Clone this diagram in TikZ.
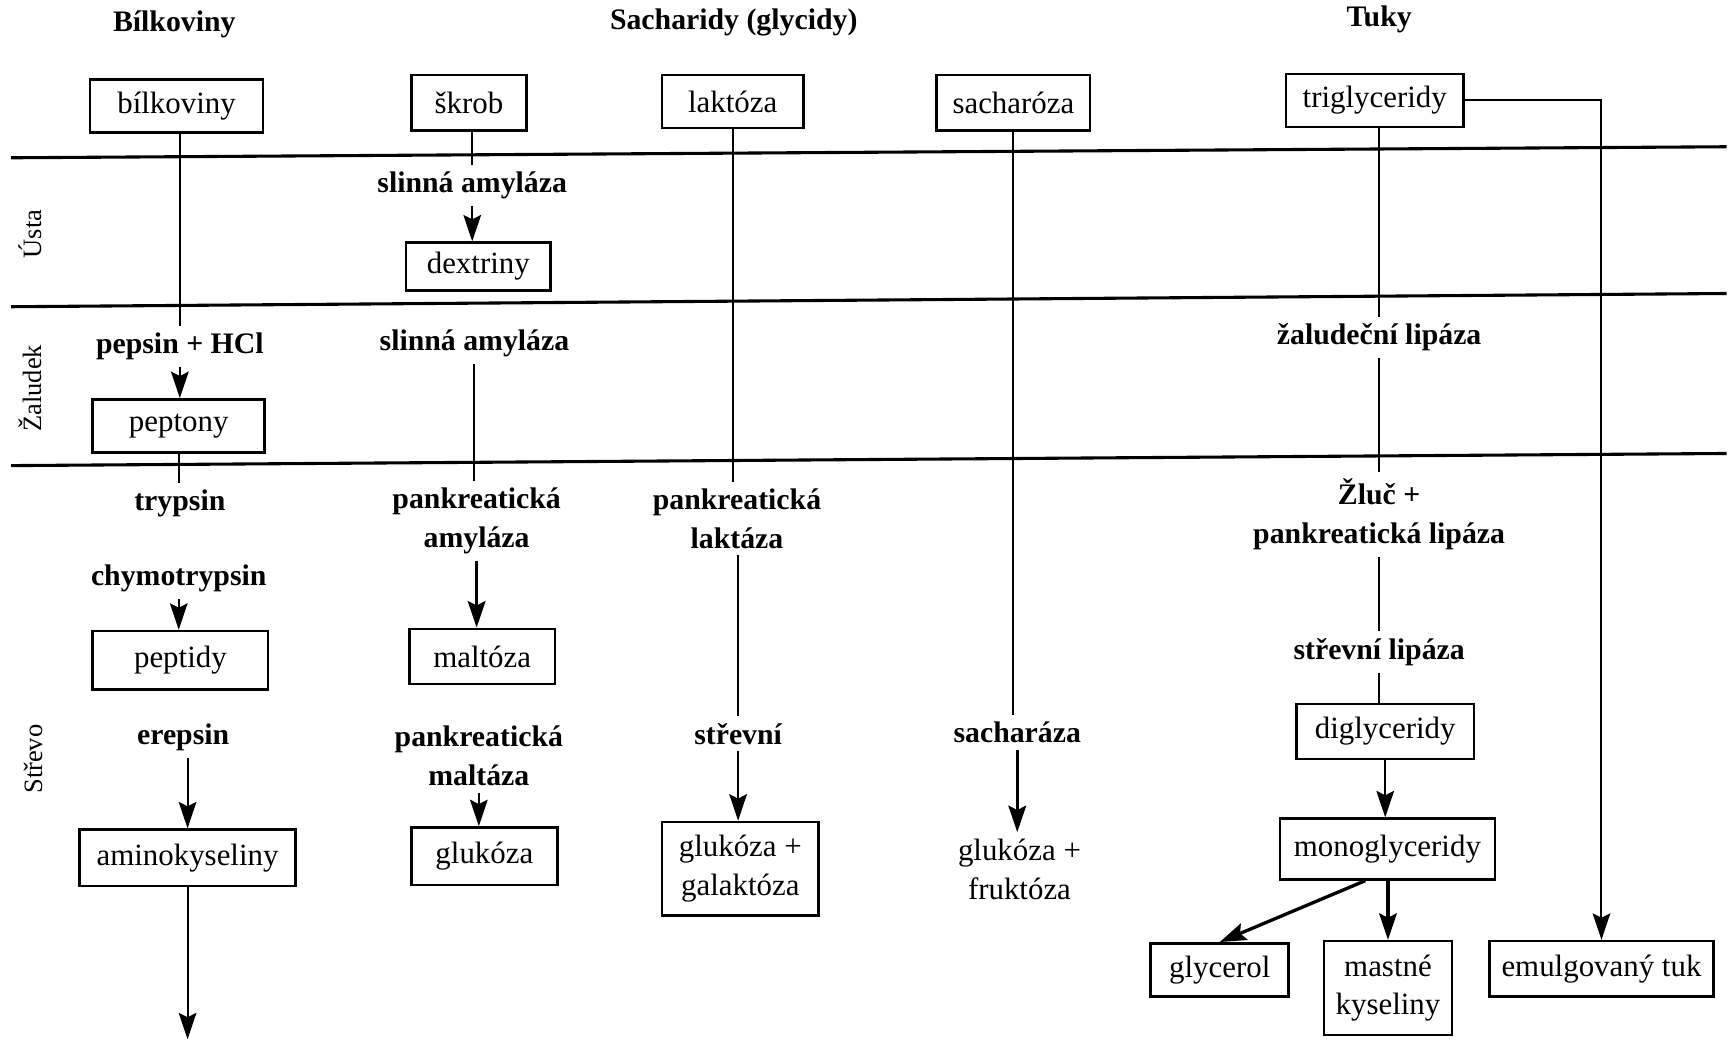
\documentclass[tikz,border=0pt]{standalone}
\usepackage{fontspec}
\setmainfont{Liberation Serif}
\usetikzlibrary{arrows.meta}
\begin{document}
\begin{tikzpicture}[x=0.5pt,y=-0.5pt,
 box/.style={draw,line width=1.2pt,inner sep=2pt,font=\fontsize{14}{17.5}\selectfont,align=center},
 txt/.style={inner sep=3pt,font=\fontsize{14}{17.5}\selectfont,align=center},
 lab/.style={inner sep=3pt,font=\fontsize{13.5}{17.5}\selectfont\bfseries,align=center},
 head/.style={font=\fontsize{13.5}{16}\selectfont\bfseries},
 side/.style={rotate=90,font=\fontsize{12}{14}\selectfont},
 con/.style={line width=0.9pt},
 arr/.style={line width=0.9pt,-{Stealth[length=12pt,width=8pt,inset=2pt]}},
 tarr/.style={line width=1.5pt,-{Stealth[length=12pt,width=8pt,inset=2pt]}},
 sep/.style={line width=1.4pt}]
\useasboundingbox (0,0) rectangle (1568,944);

% section lines
\draw[sep] (10,143) -- (1565,133);
\draw[sep] (10,278) -- (1565,266);
\draw[sep] (10,422) -- (1565,411);

% headings and side labels
\node[head] (h1) at (158,22) {Bílkoviny};
\node[head] (h2) at (665,20) {Sacharidy (glycidy)};
\node[head] (h3) at (1250,18) {Tuky};
\node[side] (s1) at (27,212) {Ústa};
\node[side] (s2) at (27,352) {Žaludek};
\node[side] (s3) at (30,688) {Střevo};

% column A: proteins
\node[box,minimum width=78.5pt,minimum height=24pt] (bilk) at (160,96) {bílkoviny};
\node[lab] (pepsin) at (163,314) {pepsin + HCl};
\node[box,minimum width=78pt,minimum height=24pt] (pept) at (162,386) {peptony};
\node[lab] (tryp) at (163,456) {trypsin};
\node[lab] (chymo) at (162,524) {chymotrypsin};
\node[box,minimum width=79.5pt,minimum height=26.5pt] (peptid) at (163.5,598.5) {peptidy};
\node[lab] (erep) at (166,668) {erepsin};
\node[box,minimum width=98pt,minimum height=25.5pt] (amino) at (170,777.5) {aminokyseliny};
\coordinate (aend) at (170,942);

\draw[con] (bilk.south -| pepsin.north) -- (pepsin.north);
\draw[arr] (pepsin.south) -- (pepsin.south |- pept.north);
\draw[con] (pept.south) -- (pept.south |- tryp.north);
\draw[arr] (chymo.south) -- (chymo.south |- peptid.north);
\draw[arr] (erep.south -| amino.north) -- (amino.north);
\draw[arr] (amino.south) -- (aend);

% column B: starch
\node[box,minimum width=52pt,minimum height=25pt] (skrob) at (425,93) {škrob};
\node[lab] (slin1) at (428,168) {slinná amyláza};
\node[box,minimum width=65.5pt,minimum height=21.5pt] (dext) at (433.5,241.5) {dextriny};
\node[lab] (slin2) at (430,311) {slinná amyláza};
\node[lab] (pamyl) at (432,472) {pankreatická\\amyláza};
\node[box,minimum width=66pt,minimum height=25pt] (malt) at (437,595) {maltóza};
\node[lab] (pmalt) at (434,685) {pankreatická\\maltáza};
\node[box,minimum width=66pt,minimum height=26pt] (gluk) at (439,776) {glukóza};

\draw[con] (skrob.south -| slin1.north) -- (slin1.north);
\draw[arr] (slin1.south) -- (slin1.south |- dext.north);
\draw[con] (slin2.south) -- (slin2.south |- pamyl.north);
\draw[tarr] (pamyl.south) -- (pamyl.south |- malt.north);
\draw[arr] (pmalt.south) -- (pmalt.south |- gluk.north);

% column C: lactose
\node[box,minimum width=64pt,minimum height=24pt] (lakt) at (664,92) {laktóza};
\node[lab] (plakt) at (668,470) {pankreatická\\laktáza};
\node[lab] (strev) at (669,665) {střevní};
\node[box,minimum width=71pt,minimum height=42.5pt] (glgal) at (671,787.5) {glukóza +\\galaktóza};

\draw[con] (lakt.south) -- (lakt.south |- plakt.north);
\draw[con] (plakt.south -| strev.north) -- (strev.north);
\draw[arr] (strev.south) -- (strev.south |- glgal.north);

% column D: sucrose
\node[box,minimum width=69.5pt,minimum height=25pt] (sach) at (918.5,93) {sacharóza};
\node[lab] (sachz) at (922,664) {sacharáza};
\node[txt] (glfru) at (924,788) {glukóza +\\fruktóza};

\draw[con] (sach.south) -- (sach.south |- sachz.north);
\draw[tarr] (sachz.south) -- (sachz.south |- glfru.north);

% column E: fats
\node[box,minimum width=80.5pt,minimum height=24pt] (trig) at (1246,91) {triglyceridy};
\node[lab] (zlip) at (1250,306) {žaludeční lipáza};
\node[lab] (zluc) at (1250,466) {Žluč +\\pankreatická lipáza};
\node[lab] (strlip) at (1250,591) {střevní lipáza};
\node[box,minimum width=80.5pt,minimum height=25pt] (digly) at (1255.5,663) {diglyceridy};
\node[box,minimum width=97.5pt,minimum height=27.5pt] (mono) at (1257.5,769.5) {monoglyceridy};
\node[box,minimum width=62.5pt,minimum height=24pt] (glyc) at (1105.5,879) {glycerol};
\node[box,minimum width=58pt,minimum height=42.5pt] (mast) at (1258,895.5) {mastné\\kyseliny};
\node[box,minimum width=101.5pt,minimum height=25pt] (emul) at (1451.5,878) {emulgovaný tuk};

\draw[con] (trig.south -| zlip.north) -- (zlip.north);
\draw[con] (zlip.south) -- (zlip.south |- zluc.north);
\draw[con] (zluc.south) -- (strlip.north);
\draw[con] (strlip.south) -- (strlip.south |- digly.north);
\draw[arr] (digly.south) -- (digly.south |- mono.north);
\draw[tarr] (mono.south -| mast.north) -- (mast.north);
\draw[tarr] (mono.235) -- (glyc.north);
\draw[arr] (trig.east) -| (emul.north);
\end{tikzpicture}
\end{document}
